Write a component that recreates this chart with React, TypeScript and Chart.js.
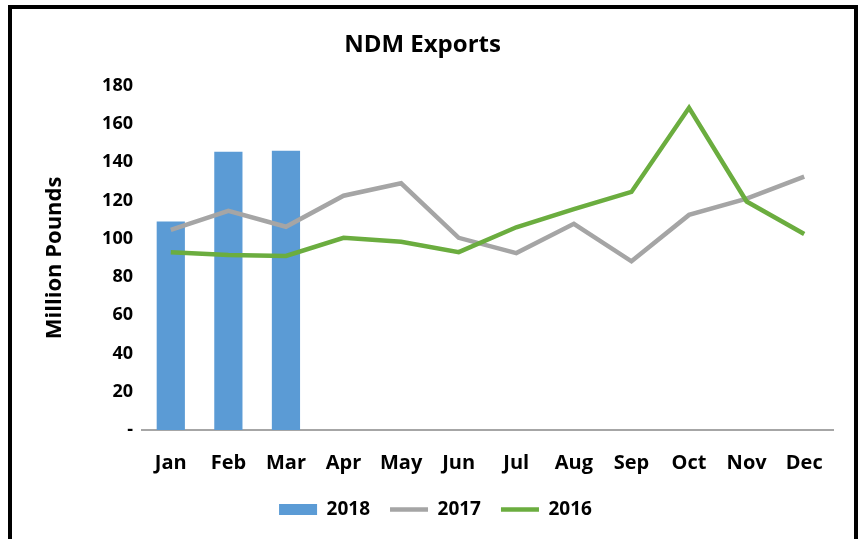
import React, { useEffect, useRef } from "react";
import { Chart, registerables } from "chart.js";

Chart.register(...registerables);

const months = ["Jan", "Feb", "Mar", "Apr", "May", "Jun", "Jul", "Aug", "Sep", "Oct", "Nov", "Dec"];
const exports2018 = [109, 145.5, 146, null, null, null, null, null, null, null, null, null];
const exports2017 = [104.7, 114.6, 106.3, 122.5, 129, 100.5, 92.5, 107.8, 88.2, 112.5, 121, 132.5];
const exports2016 = [93, 91.5, 91, 100.5, 98.4, 93, 106, 115.5, 124.5, 168.5, 119.5, 102.5];
const yTicks = [0, 20, 40, 60, 80, 100, 120, 140, 160, 180];

const FONT = "'Open Sans', sans-serif";

const legendShift = {
  id: "legendShift",
  afterLayout(chart: any) {
    if (chart.legend) {
      chart.legend.left += 13;
      chart.legend.right += 13;
    }
  },
};

export default function App() {
  const ref = useRef<HTMLCanvasElement | null>(null);
  useEffect(() => {
    if (!ref.current) return;
    const chart = new Chart(ref.current, {
      data: {
        labels: months,
        datasets: [
          {
            type: "bar",
            label: "2018",
            data: exports2018,
            backgroundColor: "#5B9BD5",
            borderWidth: 0,
            barPercentage: 0.49,
            categoryPercentage: 1,
            order: 3,
          },
          {
            type: "line",
            label: "2017",
            data: exports2017,
            borderColor: "#A5A5A5",
            backgroundColor: "#A5A5A5",
            borderWidth: 4.5,
            pointRadius: 0,
            tension: 0,
            order: 2,
          },
          {
            type: "line",
            label: "2016",
            data: exports2016,
            borderColor: "#6BAD3F",
            backgroundColor: "#6BAD3F",
            borderWidth: 4.5,
            pointRadius: 0,
            tension: 0,
            order: 1,
          },
        ],
      } as any,
      options: {
        animation: false,
        responsive: false,
        maintainAspectRatio: false,
        layout: { padding: { left: 0, right: 21, top: 0, bottom: 10 } },
        plugins: {
          tooltip: { enabled: false },
          title: {
            display: true,
            text: "NDM Exports",
            color: "#000",
            font: { family: FONT, size: 24, weight: "bold" },
            padding: { top: 22, bottom: 26 },
          },
          legend: {
            position: "bottom",
            labels: {
              color: "#000",
              font: { family: FONT, size: 19, weight: "bold" },
              usePointStyle: true,
              pointStyleWidth: 38,
              boxHeight: 11,
              padding: 20,
              generateLabels: (c: any) =>
                c.data.datasets.map((ds: any, i: number) => ({
                  text: ds.label,
                  datasetIndex: i,
                  fillStyle: ds.backgroundColor,
                  strokeStyle: ds.type === "bar" ? ds.backgroundColor : ds.borderColor,
                  lineWidth: ds.type === "bar" ? 0 : 4.5,
                  pointStyle: ds.type === "bar" ? "rect" : "line",
                  fontColor: "#000",
                  hidden: false,
                })),
            },
          },
        },
        scales: {
          x: {
            offset: true,
            grid: { display: false, drawTicks: false },
            border: { display: true, color: "#A6A6A6", width: 2 },
            ticks: { color: "#000", padding: 21, font: { family: FONT, size: 20, weight: "bold" } },
            afterFit: (s: any) => {
              s.height = 50;
            },
          },
          y: {
            min: 0,
            max: 180,
            grid: { display: false, drawTicks: false },
            border: { display: false },
            afterBuildTicks: (s: any) => {
              s.ticks = yTicks.map((v) => ({ value: v }));
            },
            ticks: {
              color: "#000",
              padding: 9,
              font: { family: FONT, size: 18, weight: "bold" },
              callback: (v: any) => (Number(v) === 0 ? "-" : String(v)),
            },
            title: {
              display: true,
              text: "Million Pounds",
              color: "#000",
              font: { family: FONT, size: 22, weight: "bold" },
              padding: { top: 30, bottom: 0 },
            },
            afterFit: (s: any) => {
              s.width = 130;
            },
          },
        },
      } as any,
      plugins: [legendShift],
    });
    return () => chart.destroy();
  }, []);

  return (
    <div
      style={{
        position: "fixed",
        left: 8,
        top: 5,
        width: 850,
        height: 560,
        boxSizing: "border-box",
        border: "4px solid #000",
        background: "#fff",
      }}
    >
      <canvas ref={ref} width={842} height={530} style={{ position: "absolute", left: 0, top: 0, width: 842, height: 530 }} />
    </div>
  );
}
